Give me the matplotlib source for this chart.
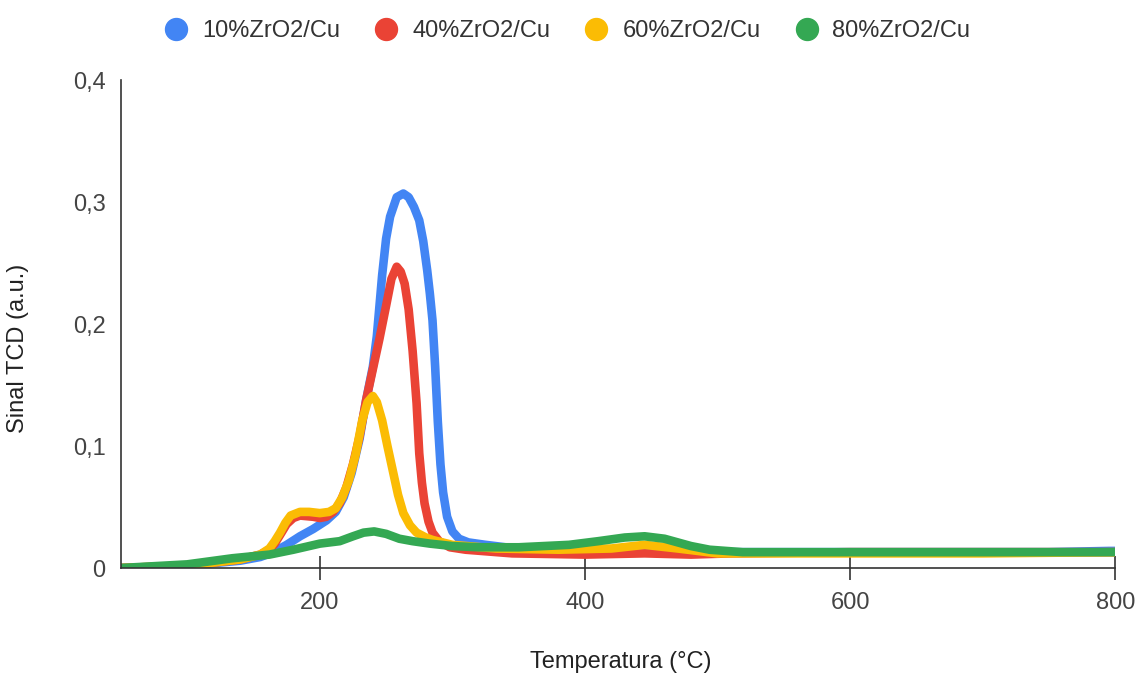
import matplotlib
matplotlib.use("Agg")
import matplotlib.pyplot as plt
from matplotlib.lines import Line2D

plt.rcParams["font.family"] = ["Liberation Sans", "DejaVu Sans"]

LABELS = ["10%ZrO2/Cu", "40%ZrO2/Cu", "60%ZrO2/Cu", "80%ZrO2/Cu"]
COLORS = ["#4285F4", "#EA4335", "#FBBC04", "#34A853"]

# 10%ZrO2/Cu
x10 = [50, 80, 100, 120, 140, 155, 165, 175, 185, 195, 205, 212, 218, 224, 230,
       235, 240, 243, 245, 247, 250, 253, 258, 263, 267, 271, 275, 278, 281, 283,
       285, 287, 289, 291, 293, 296, 300, 305, 312, 325, 340, 380, 420, 460, 500,
       550, 650, 750, 795, 800]
y10 = [0, 0.001, 0.002, 0.004, 0.006, 0.009, 0.013, 0.019, 0.026, 0.032, 0.039,
       0.046, 0.058, 0.078, 0.106, 0.138, 0.165, 0.190, 0.215, 0.240, 0.270,
       0.288, 0.304, 0.307, 0.304, 0.296, 0.285, 0.268, 0.244, 0.225, 0.203,
       0.165, 0.120, 0.085, 0.062, 0.042, 0.030, 0.024, 0.021, 0.019, 0.017,
       0.016, 0.015, 0.015, 0.013, 0.013, 0.013, 0.013, 0.014, 0.014]

# 40%ZrO2/Cu
x40 = [50, 100, 140, 155, 162, 166, 170, 175, 180, 185, 195, 200, 205, 210, 215,
       220, 225, 230, 235, 240, 245, 250, 254, 258, 261, 264, 267, 270, 273, 275,
       277, 279, 282, 285, 290, 298, 310, 345, 400, 445, 480, 510, 600, 700, 800]
y40 = [0, 0.002, 0.007, 0.011, 0.015, 0.020, 0.027, 0.036, 0.041, 0.043, 0.042,
       0.041, 0.042, 0.046, 0.053, 0.066, 0.085, 0.108, 0.138, 0.163, 0.188,
       0.215, 0.237, 0.247, 0.243, 0.233, 0.212, 0.178, 0.135, 0.094, 0.070,
       0.053, 0.038, 0.029, 0.022, 0.017, 0.015, 0.012, 0.011, 0.012, 0.011,
       0.012, 0.013, 0.013, 0.013]

# 60%ZrO2/Cu
x60 = [50, 100, 140, 155, 162, 166, 170, 174, 178, 185, 192, 200, 207, 212, 217,
       222, 227, 232, 236, 240, 243, 247, 251, 255, 259, 263, 268, 273, 280, 285,
       300, 333, 380, 420, 445, 470, 500, 600, 700, 800]
y60 = [0, 0.002, 0.007, 0.011, 0.016, 0.022, 0.029, 0.037, 0.043, 0.046, 0.046,
       0.045, 0.046, 0.049, 0.058, 0.072, 0.093, 0.121, 0.136, 0.141, 0.136,
       0.121, 0.100, 0.080, 0.060, 0.045, 0.035, 0.029, 0.025, 0.023, 0.019,
       0.016, 0.015, 0.016, 0.019, 0.016, 0.012, 0.012, 0.012, 0.013]

# 80%ZrO2/Cu
x80 = [50, 100, 134, 162, 180, 200, 215, 225, 233, 241, 250, 260, 270, 283, 300,
       320, 350, 388, 410, 430, 445, 460, 480, 494, 519, 600, 700, 800]
y80 = [0, 0.003, 0.008, 0.011, 0.015, 0.020, 0.022, 0.026, 0.029, 0.030, 0.028,
       0.024, 0.022, 0.020, 0.018, 0.017, 0.017, 0.019, 0.022, 0.025, 0.026,
       0.024, 0.018, 0.015, 0.013, 0.013, 0.013, 0.013]

XTICKS = [200, 400, 600, 800]
YTICKS = [0, 0.1, 0.2, 0.3, 0.4]
YTICKLABELS = ["0", "0,1", "0,2", "0,3", "0,4"]

series = [(x10, y10), (x40, y40), (x60, y60), (x80, y80)]
FS = 17

fig = plt.figure(figsize=(11.38, 6.73), dpi=100)
ax = fig.add_axes([0.1063, 0.156, 0.8737, 0.725])

for (xs, ys), c in zip(series, COLORS):
    ax.plot(xs, ys, color=c, lw=6.2, solid_capstyle="round",
            solid_joinstyle="round")

ax.set_xlim(50, 800)
ax.set_ylim(0, 0.4)
for s in ("top", "right"):
    ax.spines[s].set_visible(False)
for s in ("left", "bottom"):
    ax.spines[s].set_color("#333333")
    ax.spines[s].set_linewidth(1.2)

ax.set_xticks(XTICKS)
ax.set_yticks(YTICKS)
ax.set_yticklabels(YTICKLABELS)
ax.tick_params(axis="x", direction="inout", length=17, width=1.2,
               color="#333333", labelsize=FS, labelcolor="#444444", pad=9)
ax.tick_params(axis="y", length=0, labelsize=FS, labelcolor="#444444", pad=11)

ax.set_xlabel("Temperatura (°C)", fontsize=FS, color="#222222")
ax.set_ylabel("Sinal TCD (a.u.)", fontsize=FS, color="#222222")
ax.xaxis.set_label_coords(0.503, -0.17)
ax.yaxis.set_label_coords(-0.0926, 0.451)

handles = [Line2D([], [], ls="none", marker="o", ms=15.8, color=c, mec=c)
           for c in COLORS]
fig.legend(handles, LABELS, loc="center", bbox_to_anchor=(0.4987, 0.954),
           ncol=4, frameon=False, fontsize=FS, handlelength=1.0,
           handletextpad=0.6, columnspacing=1.45, labelcolor="#333333")

fig.savefig("out.png", dpi=100)
